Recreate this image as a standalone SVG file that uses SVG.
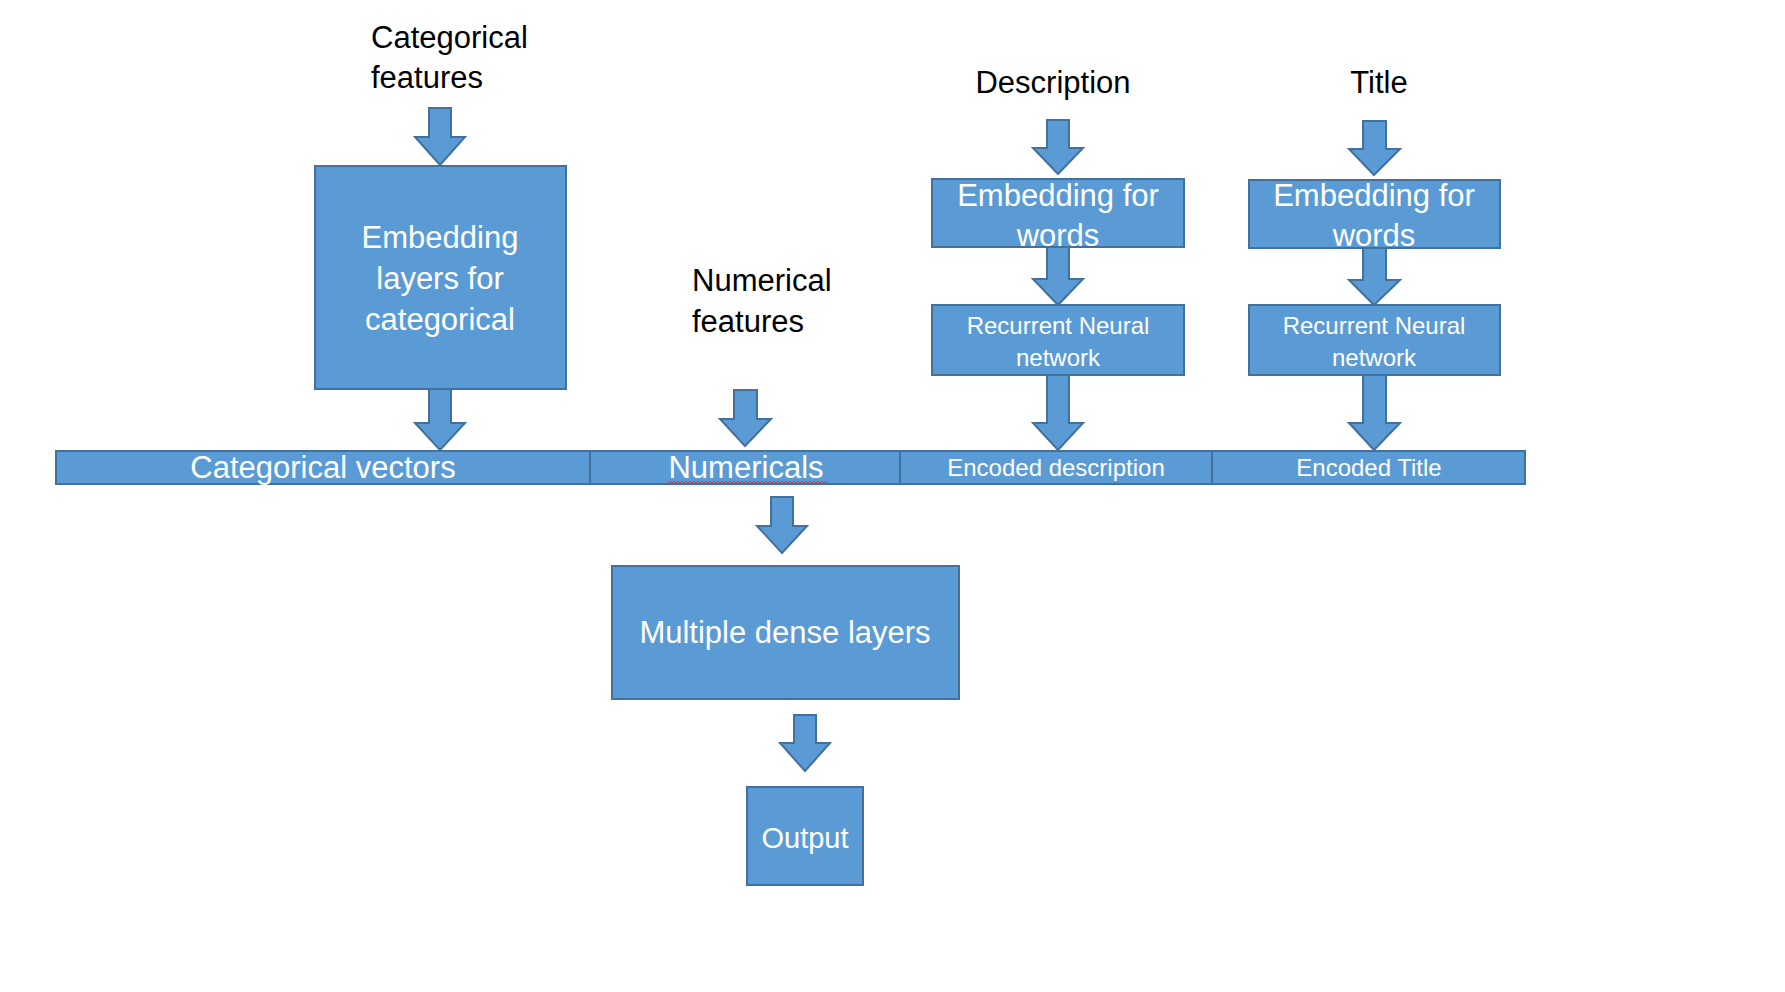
<svg xmlns="http://www.w3.org/2000/svg" width="1785" height="992" viewBox="0 0 1785 992">
<style>
.box{fill:#5B9BD5;stroke:#41719C;stroke-width:2}
.arr{fill:#5B9BD5;stroke:#41719C;stroke-width:2;stroke-linejoin:miter}
.lbl{font-family:"Liberation Sans",Arial,sans-serif;font-size:31px;fill:#000}
.big{font-family:"Liberation Sans",Arial,sans-serif;font-size:31px;fill:#fff;text-anchor:middle}
.sm{font-family:"Liberation Sans",Arial,sans-serif;font-size:24px;fill:#fff;text-anchor:middle}
</style>
<rect width="1785" height="992" fill="#fff"/>
<g id="connectors">
<path class="arr" d="M429,108 H451 V137 H465 L440,165 L415,137 H429 Z"/>
<path class="arr" d="M429,389 H451 V423 H465 L440,450 L415,423 H429 Z"/>
<path class="arr" d="M734,390 H757 V419 H771 L745,446 L720,419 H734 Z"/>
<path class="arr" d="M1047,120 H1069 V148 H1083 L1058,174 L1033,148 H1047 Z"/>
<path class="arr" d="M1047,247 H1069 V279 H1083 L1058,305 L1033,279 H1047 Z"/>
<path class="arr" d="M1047,375 H1069 V423 H1083 L1058,450 L1033,423 H1047 Z"/>
<path class="arr" d="M1363,121 H1386 V149 H1400 L1374,175 L1349,149 H1363 Z"/>
<path class="arr" d="M1363,248 H1386 V280 H1400 L1374,305 L1349,280 H1363 Z"/>
<path class="arr" d="M1363,375 H1386 V423 H1400 L1374,450 L1349,423 H1363 Z"/>
<path class="arr" d="M771,497 H793 V526 H807 L782,553 L757,526 H771 Z"/>
<path class="arr" d="M794,715 H816 V743 H830 L805,771 L780,743 H794 Z"/>
</g>
<g id="label-categorical">
<text class="lbl" x="371" y="48">Categorical</text>
<text class="lbl" x="371" y="88">features</text>
</g>
<g id="label-numerical">
<text class="lbl" x="692" y="291">Numerical</text>
<text class="lbl" x="692" y="332">features</text>
</g>
<g id="label-description">
<text class="lbl" x="1053" y="93" text-anchor="middle">Description</text>
</g>
<g id="label-title">
<text class="lbl" x="1379" y="93" text-anchor="middle">Title</text>
</g>
<g id="embed-cat">
<rect class="box" x="315" y="166" width="251" height="223"/>
<text class="big" x="440" y="248">Embedding</text>
<text class="big" x="440" y="289">layers for</text>
<text class="big" x="440" y="330">categorical</text>
</g>
<g id="embed-desc">
<rect class="box" x="932" y="179" width="252" height="68"/>
<text class="big" x="1058" y="206">Embedding for</text>
<text class="big" x="1058" y="246">words</text>
</g>
<g id="rnn-desc">
<rect class="box" x="932" y="305" width="252" height="70"/>
<text class="sm" x="1058" y="334">Recurrent Neural</text>
<text class="sm" x="1058" y="366">network</text>
</g>
<g id="embed-title">
<rect class="box" x="1249" y="180" width="251" height="68"/>
<text class="big" x="1374" y="206">Embedding for</text>
<text class="big" x="1374" y="246">words</text>
</g>
<g id="rnn-title">
<rect class="box" x="1249" y="305" width="251" height="70"/>
<text class="sm" x="1374" y="334">Recurrent Neural</text>
<text class="sm" x="1374" y="366">network</text>
</g>
<g id="bar-categorical">
<rect class="box" x="56" y="451" width="534" height="33"/>
<text class="big" x="323" y="478">Categorical vectors</text>
</g>
<g id="bar-numericals">
<rect class="box" x="590" y="451" width="310" height="33"/>
<text class="big" x="746" y="478">Numericals</text>
<path d="M668,483 l2,-2 l2,2 l2,-2 l2,2 l2,-2 l2,2 l2,-2 l2,2 l2,-2 l2,2 l2,-2 l2,2 l2,-2 l2,2 l2,-2 l2,2 l2,-2 l2,2 l2,-2 l2,2 l2,-2 l2,2 l2,-2 l2,2 l2,-2 l2,2 l2,-2 l2,2 l2,-2 l2,2 l2,-2 l2,2 l2,-2 l2,2 l2,-2 l2,2 l2,-2 l2,2 l2,-2 l2,2 l2,-2 l2,2 l2,-2 l2,2 l2,-2 l2,2 l2,-2 l2,2 l2,-2 l2,2 l2,-2 l2,2 l2,-2 l2,2 l2,-2 l2,2 l2,-2 l2,2 l2,-2 l2,2 l2,-2 l2,2 l2,-2 l2,2 l2,-2 l2,2 l2,-2 l2,2 l2,-2 l2,2 l2,-2 l2,2 l2,-2 l2,2 l2,-2 l2,2 l2,-2 l2,2 l2,-2 l2,2" fill="none" stroke="#e03030" stroke-width="1"/>
</g>
<g id="bar-description">
<rect class="box" x="900" y="451" width="312" height="33"/>
<text class="sm" x="1056" y="476">Encoded description</text>
</g>
<g id="bar-title">
<rect class="box" x="1212" y="451" width="313" height="33"/>
<text class="sm" x="1369" y="476">Encoded Title</text>
</g>
<g id="dense">
<rect class="box" x="612" y="566" width="347" height="133"/>
<text class="big" x="785" y="643">Multiple dense layers</text>
</g>
<g id="output">
<rect class="box" x="747" y="787" width="116" height="98"/>
<text class="big" x="805" y="848" style="font-size:29px">Output</text>
</g>
</svg>
